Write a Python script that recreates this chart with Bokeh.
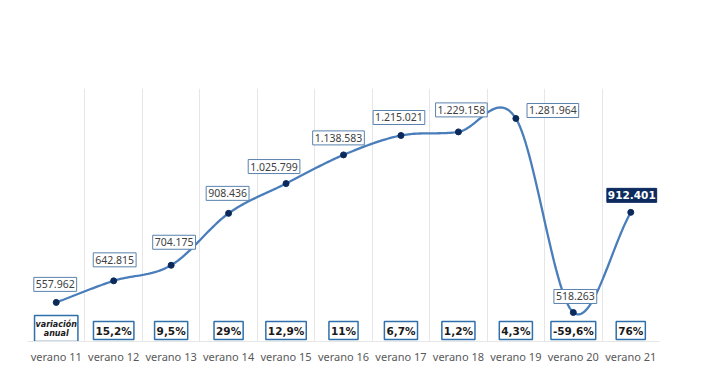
import numpy as np
from bokeh.plotting import figure
from bokeh.models import ColumnDataSource, FixedTicker, Range1d
from bokeh.core.properties import value
from bokeh.embed import file_html
from bokeh.resources import INLINE

categories = ["verano 11", "verano 12", "verano 13", "verano 14", "verano 15", "verano 16",
              "verano 17", "verano 18", "verano 19", "verano 20", "verano 21"]
passengers = [557962, 642815, 704175, 908436, 1025799, 1138583, 1215021, 1229158, 1281964, 518263, 912401]
value_labels = ["557.962", "642.815", "704.175", "908.436", "1.025.799", "1.138.583",
                "1.215.021", "1.229.158", "1.281.964", "518.263", "912.401"]
annual_change = ["variación\nanual", "15,2%", "9,5%", "29%", "12,9%", "11%", "6,7%", "1,2%", "4,3%", "-59,6%", "76%"]

# label nudges in pixels (layout only)
label_dx = [-1, 1, 3, -1, -12, -5, -2, 3, 37, 2, 1]
label_dy = [18, 21, 23, 20, 17, 17, 18, 22, 8, 16, 17]

n = len(categories)
xs = np.arange(n) + 0.5
ys = np.array(passengers, dtype=float)

# Catmull-Rom smoothing (like spreadsheet "smoothed line")
def smooth(x, y, steps=30):
    px = np.concatenate([[2 * x[0] - x[1]], x, [2 * x[-1] - x[-2]]])
    py = np.concatenate([[2 * y[0] - y[1]], y, [2 * y[-1] - y[-2]]])
    outx, outy = [], []
    for i in range(1, len(px) - 2):
        s = np.linspace(0, 1, steps, endpoint=(i == len(px) - 3))
        h00 = 2 * s**3 - 3 * s**2 + 1
        h10 = s**3 - 2 * s**2 + s
        h01 = -2 * s**3 + 3 * s**2
        h11 = s**3 - s**2
        for pp, out in ((px, outx), (py, outy)):
            m0 = (pp[i + 1] - pp[i - 1]) / 2
            m1 = (pp[i + 2] - pp[i]) / 2
            out.extend(h00 * pp[i] + h10 * m0 + h01 * pp[i + 1] + h11 * m1)
    return outx, outy

cx, cy = smooth(xs, ys)

Y0, Y1 = 404000, 1400000
p = figure(width=695, height=371, output_backend="svg", toolbar_location=None,
           x_range=Range1d(0, n), y_range=Range1d(Y0, Y1),
           min_border_left=27, min_border_right=36, min_border_top=88, min_border_bottom=30)
p.outline_line_color = None
p.background_fill_color = "white"
p.yaxis.visible = False
p.ygrid.grid_line_color = None
p.xgrid.ticker = FixedTicker(ticks=list(range(n + 1)))
p.xgrid.grid_line_color = "#e6e6e6"
p.xgrid.grid_line_width = 1
p.xaxis.ticker = FixedTicker(ticks=list(xs))
p.xaxis.major_label_overrides = {float(x): c for x, c in zip(xs, categories)}
p.xaxis.axis_line_color = "#e6e6e6"
p.xaxis.major_tick_line_color = None
p.xaxis.minor_tick_line_color = None
p.xaxis.major_label_text_font = "Noto Sans"
p.xaxis.major_label_text_font_size = "11px"
p.xaxis.major_label_text_color = "#595959"
p.xaxis.major_label_standoff = 1

p.line(cx, cy, line_color="#4a7ebb", line_width=2.3)
p.scatter(xs, ys, size=6, fill_color="#0b2a5b", line_color="#0b2a5b")

src = ColumnDataSource(dict(x=list(xs[:-1]), y=passengers[:-1], t=value_labels[:-1],
                            dx=label_dx[:-1], dy=[-d for d in label_dy[:-1]]))
p.text(x="x", y="y", text="t", x_offset="dx", y_offset="dy", source=src,
       text_align="center", text_baseline="middle",
       text_font=value("Noto Sans"), text_font_size="10.5px", text_color="#404040",
       background_fill_color="white", border_line_color="#5a82ad",
       border_line_width=1, padding=(2, 3))
src2 = ColumnDataSource(dict(x=[xs[-1]], y=[passengers[-1]], t=[value_labels[-1]],
                             dx=[label_dx[-1]], dy=[-label_dy[-1]]))
p.text(x="x", y="y", text="t", x_offset="dx", y_offset="dy", source=src2,
       text_align="center", text_baseline="middle",
       text_font=value("DejaVu Sans"), text_font_size="10.5px", text_font_style="bold",
       text_color="white", background_fill_color="#0d2b5e",
       border_line_color="#0d2b5e", padding=(1, 3))

src3 = ColumnDataSource(dict(x=list(xs[1:]), y=[Y0] * (n - 1), t=annual_change[1:]))
p.text(x="x", y="y", text="t", y_offset=-11, source=src3,
       text_align="center", text_baseline="middle",
       text_font=value("DejaVu Sans"), text_font_size="10.5px", text_font_style="bold",
       text_color="#1a1a1a", background_fill_color="white",
       border_line_color="#2f6fab", border_line_width=1.5, padding=(2, 3))
src4 = ColumnDataSource(dict(x=[xs[0]], y=[Y0], t=[annual_change[0]]))
p.text(x="x", y="y", text="t", y_offset=-13, source=src4,
       text_align="center", text_baseline="middle",
       text_font=value("DejaVu Sans"), text_font_size="8px", text_font_style="bold italic",
       text_color="#1a1a1a", background_fill_color="white",
       border_line_color="#2f6fab", border_line_width=1.5, padding=(1, 4),
       text_line_height=1.0)

open("out.html", "w").write(file_html(p, INLINE))
